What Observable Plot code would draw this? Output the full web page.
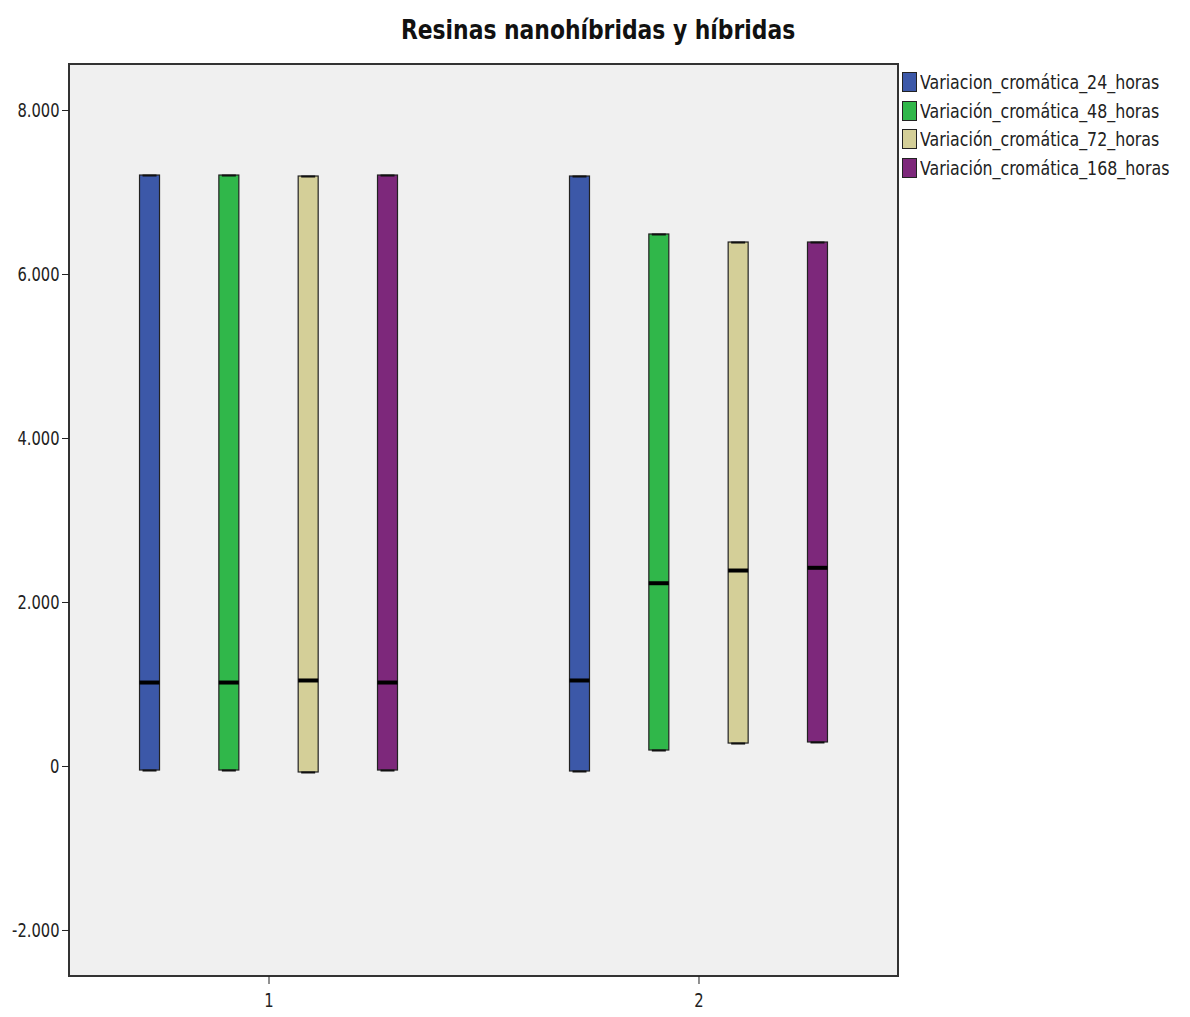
<!DOCTYPE html>
<html>
<head>
<meta charset="utf-8">
<script src="https://cdn.jsdelivr.net/npm/d3@7"></script>
<script src="https://cdn.jsdelivr.net/npm/@observablehq/plot@0.6"></script>
<style>
  html, body { margin: 0; padding: 0; background: #fff; }
  #wrap { position: relative; width: 1190px; height: 1017px; font-family: "Liberation Sans Narrow", "Arial Narrow", "DejaVu Sans Condensed", sans-serif; }
  #title { position: absolute; left: 0; width: 1196px; top: 14px; text-align: center; font-weight: bold; font-size: 27px; color: #111; }
  #title span { display: inline-block; transform: scaleX(0.9); }
  #legend { position: absolute; left: 902px; top: 68px; font-size: 20px; color: #222; }
  .row { display: flex; align-items: center; height: 28.5px; white-space: nowrap; }
  .sw { width: 15px; height: 20px; border: 1.5px solid #222; margin-right: 3px; box-sizing: border-box; flex: none; }
  .row span { display: inline-block; transform: scaleX(0.88); transform-origin: left center; }
  #chart { position: absolute; left: 0; top: 0; }
</style>
</head>
<body>
<div id="wrap">
  <div id="chart"></div>
  <div id="title"><span>Resinas nanohíbridas y híbridas</span></div>
  <div id="legend"></div>
</div>
<script>
// ---- data ----
const groups = ["1", "2"];
const series = [
  "Variacion_cromática_24_horas",
  "Variación_cromática_48_horas",
  "Variación_cromática_72_horas",
  "Variación_cromática_168_horas"
];
const colors = ["#3c58a8", "#30b74a", "#d4cf98", "#7d287b"];
// per group, per series
const minG1 = [-49, -49, -73, -49];
const maxG1 = [7207, 7207, 7195, 7207];
const medG1 = [1024, 1024, 1049, 1024];
const minG2 = [-61, 195, 280, 293];
const maxG2 = [7195, 6488, 6390, 6390];
const medG2 = [1049, 2235, 2390, 2423];
const yTicks = [-2000, 0, 2000, 4000, 6000, 8000];

const rows = [];
series.forEach((s, i) => rows.push({group: "1", series: s, min: minG1[i], max: maxG1[i], med: medG1[i]}));
series.forEach((s, i) => rows.push({group: "2", series: s, min: minG2[i], max: maxG2[i], med: medG2[i]}));

const W = 1190, H = 1017, mL = 69, mR = 292, mT = 64, mB = 41;
const fmt = d => (d < 0 ? "-" : "") + d3.format(",")(Math.abs(d)).replace(/,/g, ".");

const plot = Plot.plot({
  width: W, height: H,
  marginLeft: mL, marginRight: mR, marginTop: mT, marginBottom: mB,
  style: {fontFamily: '"Liberation Sans Narrow", "Arial Narrow", "DejaVu Sans Condensed", sans-serif', fontSize: "19px", color: "#222", background: "transparent"},
  fx: {domain: groups, paddingInner: 0.072, paddingOuter: 0, round: false, axis: "bottom", label: null, tickSize: 8, tickPadding: 9},
  x: {domain: series, paddingInner: 0.748, paddingOuter: 0.889, round: false, axis: null},
  y: {domain: [-2561, 8561], ticks: yTicks, tickFormat: fmt, tickSize: 7, tickPadding: 3, label: null, grid: false},
  color: {domain: series, range: colors},
  marks: [
    Plot.barY(rows, {fx: "group", x: "series", y1: "min", y2: "max", fill: "series", stroke: "#222", strokeWidth: 1.2}),
    Plot.tickY(rows, {fx: "group", x: "series", y: "max", stroke: "#111", strokeWidth: 2, insetLeft: 3, insetRight: 3}),
    Plot.tickY(rows, {fx: "group", x: "series", y: "min", stroke: "#111", strokeWidth: 2, insetLeft: 3, insetRight: 3}),
    Plot.tickY(rows, {fx: "group", x: "series", y: "med", stroke: "#000", strokeWidth: 4})
  ]
});

// plot-area background and frame (layout only)
const svg = d3.select(plot);
svg.insert("rect", ":first-child")
  .attr("x", mL).attr("y", mT).attr("width", W - mL - mR).attr("height", H - mT - mB)
  .attr("fill", "#f0f0f0").attr("stroke", "#333").attr("stroke-width", 2);
document.getElementById("chart").appendChild(plot);
// narrow the tick labels to mimic a condensed face
svg.selectAll("text").each(function () {
  this.setAttribute("fill", "#222");
  this.style.fontSize = "19px";
  const L = this.getComputedTextLength();
  if (L > 0) {
    this.setAttribute("textLength", (L * 0.86).toFixed(1));
    this.setAttribute("lengthAdjust", "spacingAndGlyphs");
  }
});

// legend
const leg = d3.select("#legend");
series.forEach((s, i) => {
  const r = leg.append("div").attr("class", "row");
  r.append("div").attr("class", "sw").style("background", colors[i]);
  r.append("span").text(s);
});
</script>
</body>
</html>
